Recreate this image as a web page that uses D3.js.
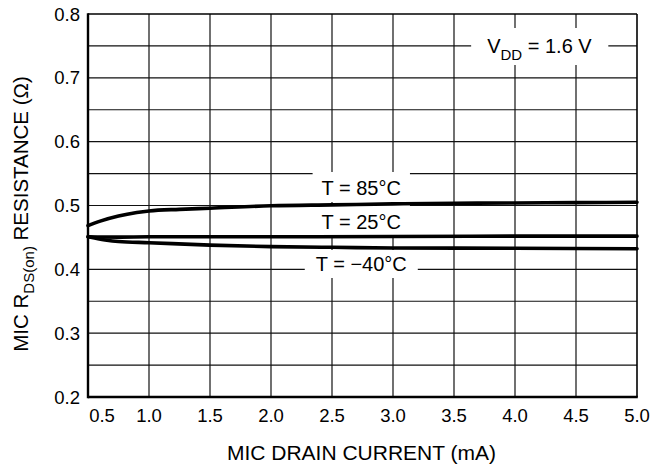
<!DOCTYPE html>
<html>
<head>
<meta charset="utf-8">
<script src="https://cdn.jsdelivr.net/npm/d3@7"></script>
<style>
  body { margin: 0; background: #fff; }
  text { font-family: "Liberation Sans", Arial, sans-serif; fill: #000; }
</style>
</head>
<body>
<div id="vis"></div>
<script>
// Tick values
const xTicks = [0.5, 1.0, 1.5, 2.0, 2.5, 3.0, 3.5, 4.0, 4.5, 5.0];
const yTicks = [0.2, 0.3, 0.4, 0.5, 0.6, 0.7, 0.8];
const yGrid = [0.25, 0.3, 0.35, 0.4, 0.45, 0.5, 0.55, 0.6, 0.65, 0.7, 0.75];

// Series (drain current mA, resistance ohm)
const current85 = [0.5, 0.6, 0.75, 0.9, 1.0, 1.25, 1.5, 2.0, 2.5, 3.0, 3.5, 4.0, 4.5, 5.0];
const rds85 = [0.4685, 0.4755, 0.4835, 0.489, 0.4915, 0.494, 0.4958, 0.4995, 0.501, 0.5025, 0.5035, 0.504, 0.5045, 0.505];

const current25 = [0.5, 0.75, 1.0, 2.0, 3.0, 4.0, 5.0];
const rds25 = [0.451, 0.4505, 0.451, 0.451, 0.4515, 0.452, 0.452];

const currentM40 = [0.5, 0.64, 0.75, 1.0, 1.5, 2.0, 2.5, 3.0, 4.0, 5.0];
const rdsM40 = [0.451, 0.446, 0.4435, 0.4417, 0.438, 0.4355, 0.4345, 0.4335, 0.433, 0.4323];

const seriesNames = ['T = 85°C', 'T = 25°C', 'T = \u221240°C'];

const margin = { top: 14, right: 16, bottom: 68, left: 88 };
const W = 653, H = 465;
const width = W - margin.left - margin.right;
const height = H - margin.top - margin.bottom;

const svg = d3.select('#vis')
    .append('svg')
    .attr('width', W)
    .attr('height', H)
    .append('g')
    .attr('transform', `translate(${margin.left},${margin.top})`);

const xScale = d3.scaleLinear().domain([0.5, 5.0]).range([0, width]);
const yScale = d3.scaleLinear().domain([0.2, 0.8]).range([height, 0]);

// Grid lines
svg.append('g')
    .selectAll('line')
    .data(xTicks.slice(1, -1))
    .join('line')
    .attr('x1', d => xScale(d)).attr('x2', d => xScale(d))
    .attr('y1', 0).attr('y2', height)
    .attr('stroke', '#111').attr('stroke-width', 1.2);

svg.append('g')
    .selectAll('line')
    .data(yGrid)
    .join('line')
    .attr('y1', d => yScale(d)).attr('y2', d => yScale(d))
    .attr('x1', 0).attr('x2', width)
    .attr('stroke', '#111').attr('stroke-width', 1.2);

// Frame: thin top/right, heavy left/bottom
svg.append('line').attr('x1', 0).attr('x2', width).attr('y1', 0).attr('y2', 0)
    .attr('stroke', '#000').attr('stroke-width', 1.4);
svg.append('line').attr('x1', width).attr('x2', width).attr('y1', 0).attr('y2', height)
    .attr('stroke', '#000').attr('stroke-width', 1.6);
svg.append('line').attr('x1', 0).attr('x2', 0).attr('y1', -0.7).attr('y2', height + 1.2)
    .attr('stroke', '#000').attr('stroke-width', 2.4);
svg.append('line').attr('x1', 0).attr('x2', width + 0.8).attr('y1', height).attr('y2', height)
    .attr('stroke', '#000').attr('stroke-width', 2.4);

// Tick labels
svg.append('g')
    .selectAll('text')
    .data(yTicks)
    .join('text')
    .attr('x', -8)
    .attr('y', d => yScale(d))
    .attr('dy', '0.36em')
    .attr('text-anchor', 'end')
    .style('font-size', '18.5px')
    .text(d => d3.format('.1f')(d));

svg.append('g')
    .selectAll('text')
    .data(xTicks)
    .join('text')
    .attr('x', (d, i) => xScale(d) + (i === 0 ? 14 : 0))
    .attr('y', height + 25)
    .attr('text-anchor', 'middle')
    .style('font-size', '18.5px')
    .text(d => d3.format('.1f')(d));

// Axis titles
svg.append('text')
    .attr('x', width / 2 - 1)
    .attr('y', height + 63)
    .attr('text-anchor', 'middle')
    .style('font-size', '21px')
    .text('MIC DRAIN CURRENT (mA)');

const yTitle = svg.append('text')
    .attr('transform', `translate(${-60},${200}) rotate(-90)`)
    .attr('text-anchor', 'middle')
    .style('font-size', '20.5px');
yTitle.append('tspan').text('MIC R');
yTitle.append('tspan').attr('dy', 6).style('font-size', '15px').text('DS(on)');
yTitle.append('tspan').attr('dy', -6).text(' RESISTANCE (\u03A9)');

// Label with white box behind it
function boxedLabel(cx, baseline, build, padX, top, bottom) {
    const g = svg.append('g');
    const rect = g.append('rect').attr('fill', '#fff');
    const t = g.append('text')
        .attr('x', cx)
        .attr('y', baseline)
        .attr('text-anchor', 'middle')
        .style('font-size', '20px');
    build(t);
    const bb = t.node().getBBox();
    rect.attr('x', bb.x - padX)
        .attr('width', bb.width + 2 * padX)
        .attr('y', baseline - top)
        .attr('height', top + bottom);
}

const labelX = xScale(2.74);
boxedLabel(labelX, 181, t => t.text(seriesNames[0]), 9, 23, 7);
boxedLabel(labelX, 215, t => t.text(seriesNames[1]), 9, 25, 7);
boxedLabel(labelX, 257, t => t.text(seriesNames[2]), 11, 21, 7);

boxedLabel(xScale(4.2), 39, t => {
    t.append('tspan').text('V');
    t.append('tspan').attr('dy', 7).style('font-size', '15px').text('DD');
    t.append('tspan').attr('dy', -7).text(' = 1.6 V');
}, 16, 25, 12);

// Curves
const line = d3.line()
    .x(d => xScale(d[0]))
    .y(d => yScale(d[1]))
    .curve(d3.curveMonotoneX);

const series = [
    d3.zip(current85, rds85),
    d3.zip(current25, rds25),
    d3.zip(currentM40, rdsM40)
];

svg.append('g')
    .selectAll('path')
    .data(series)
    .join('path')
    .attr('d', line)
    .attr('fill', 'none')
    .attr('stroke', '#000')
    .attr('stroke-width', 3.6)
    .attr('stroke-linecap', 'round');
</script>
</body>
</html>
